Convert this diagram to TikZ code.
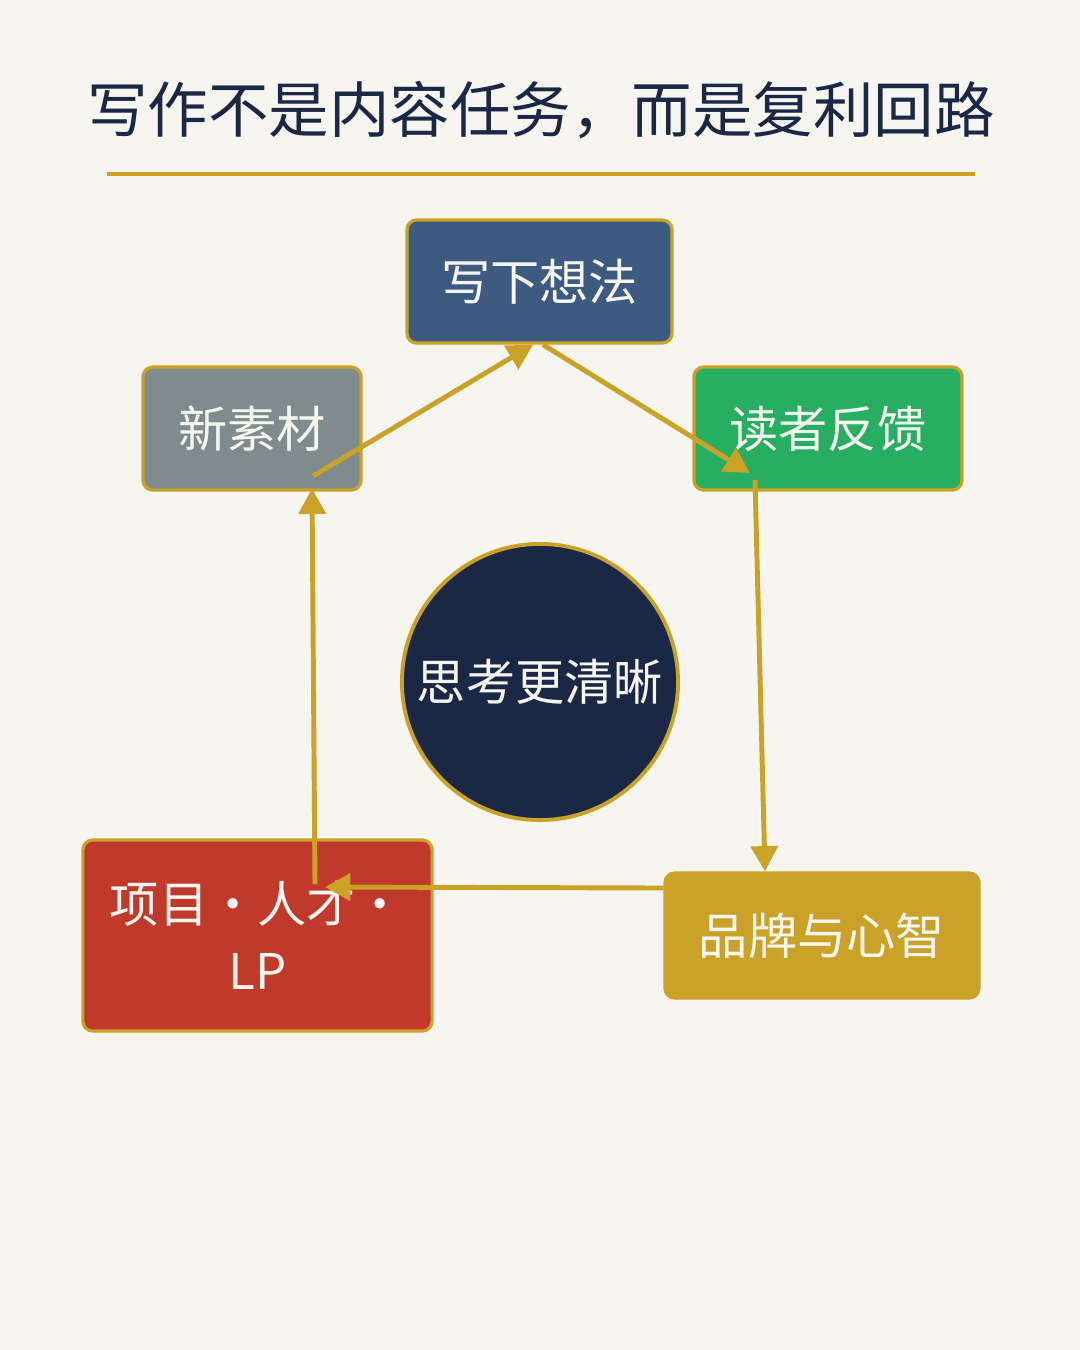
\documentclass[tikz,border=0pt]{standalone}
\usepackage{fontspec}
\setmainfont{Noto Sans CJK SC}
\usetikzlibrary{calc,arrows.meta}

\definecolor{paper}{HTML}{F7F5EF}
\definecolor{navy}{HTML}{1B2845}
\definecolor{gold}{HTML}{C9A227}
\definecolor{slate}{HTML}{3D5A80}
\definecolor{stone}{HTML}{7F8C8D}
\definecolor{leaf}{HTML}{27AE60}
\definecolor{brick}{HTML}{C0392B}

\tikzset{
  card/.style={draw=gold, line width=0.9pt, rounded corners=2.8pt, inner sep=0pt,
    text=paper, align=center, font=\fontsize{14}{19}\selectfont},
  flow/.style={draw=gold, line width=1.4pt, -{Triangle[length=7.2pt,width=7.6pt]}}
}

\begin{document}
\begin{tikzpicture}[x=0.01cm,y=-0.01cm]
\fill[paper] (0,0) rectangle (1080,1350);
\useasboundingbox (0,0) rectangle (1080,1350);

% title
\node (title) at (541,110) [text=navy, font=\fontsize{17.2}{22}\selectfont] {写作不是内容任务，而是复利回路};
\draw[gold, line width=1.2pt] (107,174) -- (975,174);

% boxes
\node (idea) at (539.5,281.5) [card, fill=slate, minimum width=2.65cm, minimum height=1.23cm] {写下想法};
\node (newmat) at (252,428.5) [card, fill=stone, minimum width=2.18cm, minimum height=1.23cm] {新素材};
\node (feedback) at (828,428.5) [card, fill=leaf, minimum width=2.68cm, minimum height=1.23cm] {读者反馈};
\node (projects) at (257.5,935.5) [card, fill=brick, minimum width=3.49cm, minimum height=1.91cm] {项目·人才·\\LP};
\node (brand) at (822,935.5) [card, fill=gold, minimum width=3.14cm, minimum height=1.25cm] {品牌与心智};

% center
\node (core) at (540,682) [circle, draw=gold, line width=1.1pt, fill=navy, text=paper,
  inner sep=0pt, minimum size=2.76cm, font=\fontsize{14}{19}\selectfont] {思考更清晰};

% loop
\draw[flow] ($(newmat.center)+(61,47.5)$) -- ($(idea.south)+(-6.5,0)$);
\draw[flow] ($(idea.south)+(3.5,0)$) -- ($(feedback.center)+(-78,44.5)$);
\draw[flow] ($(feedback.center)+(-73,51.5)$) -- ($(brand.north)+(-57,0)$);
\draw[flow] ($(brand.west)+(0,-47.5)$) -- ($(projects.center)+(67.5,-48.5)$);
\draw[flow] ($(projects.center)+(57.5,-51.5)$) -- ($(newmat.south)+(60,-3)$);
\end{tikzpicture}
\end{document}
